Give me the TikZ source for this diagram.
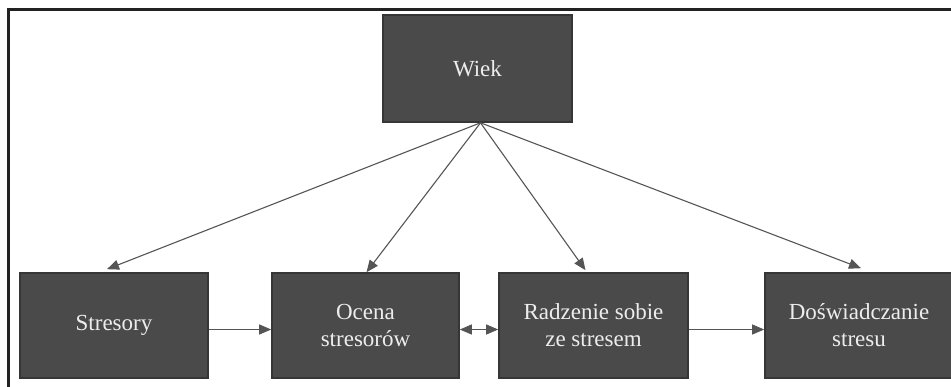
\documentclass[tikz,border=0pt]{standalone}
\usepackage{fontspec}
\setmainfont{Liberation Serif}
\usetikzlibrary{arrows.meta}
\definecolor{boxfill}{HTML}{4A4A4A}
\definecolor{boxline}{HTML}{363636}
\definecolor{txt}{HTML}{EDEDED}
\definecolor{arr}{HTML}{555555}
\definecolor{frame}{HTML}{222222}
\tikzset{
  box/.style={draw=boxline, line width=1.6pt, fill=boxfill, text=txt,
    minimum width=188pt, minimum height=105pt, inner sep=0pt, align=center,
    font=\fontsize{23}{27}\selectfont},
  conn/.style={draw=arr, line width=1.1pt, -{Triangle[length=12pt,width=10pt]}},
  dconn/.style={draw=arr, line width=1.1pt, {Triangle[length=12pt,width=10pt]}-{Triangle[length=12pt,width=10pt]}}
}
\begin{document}
\begin{tikzpicture}[x=1pt,y=-1pt]
\useasboundingbox (0,0) rectangle (951,386);
\draw[frame, line width=2.7pt] (8.7,390) -- (8.7,9.7) -- (955,9.7);
\node[box, minimum width=189pt, minimum height=107pt] (wiek) at (477.5,68.5) {Wiek};
\node[box] (stres) at (114,325.5) {Stresory};
\node[box, minimum width=187pt] (ocena) at (365.5,325.5) {Ocena\\stresorów};
\node[box, minimum width=189pt] (radz) at (593.5,325.5) {Radzenie sobie\\ze stresem};
\node[box] (dosw) at (859,325.5) {Doświadczanie\\stresu};
\coordinate (w) at ([xshift=3pt]wiek.south);
\draw[conn] (w) -- ([xshift=-7pt,yshift=3pt]stres.north);
\draw[conn] (w) -- ([xshift=1pt]ocena.north);
\draw[conn] (w) -- ([xshift=-8pt,yshift=2pt]radz.north);
\draw[conn] (w) -- ([xshift=2pt,yshift=4pt]dosw.north);
\draw[conn] ([yshift=-4pt]stres.east) -- ([yshift=-4pt]ocena.west);
\draw[dconn] ([yshift=-4pt]ocena.east) -- ([yshift=-4pt]radz.west);
\draw[conn] ([yshift=-4pt]radz.east) -- ([yshift=-4pt]dosw.west);
\end{tikzpicture}
\end{document}
